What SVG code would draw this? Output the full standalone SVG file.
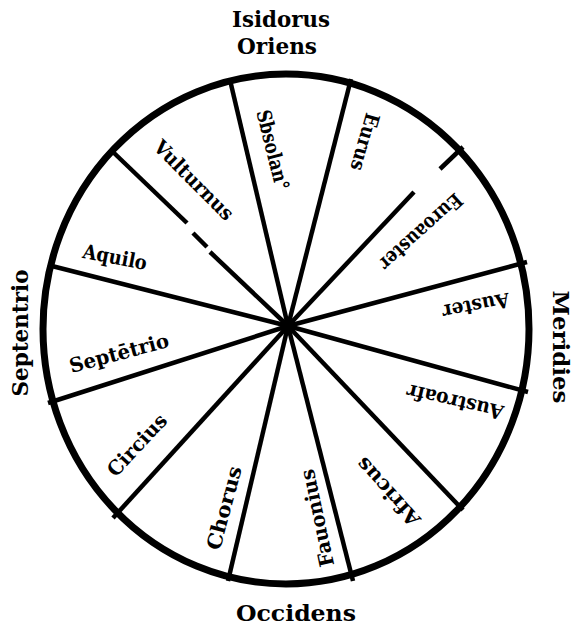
<svg xmlns="http://www.w3.org/2000/svg" width="583" height="634" viewBox="0 0 583 634">
<style>
.lbl{font-family:"DejaVu Serif","Liberation Serif",serif;font-weight:bold;font-size:20px;fill:#000;text-anchor:middle;dominant-baseline:central}
.big{font-size:23px}
.sp{stroke:#000;stroke-width:4.5;fill:none;stroke-linecap:butt}
</style>
<rect width="583" height="634" fill="#fff"/>
<g id="wheel">
<ellipse cx="286" cy="329" rx="243" ry="255" fill="none" stroke="#000" stroke-width="7"/>
</g>
<g id="spokes" class="sp">
<line x1="288" y1="326" x2="230" y2="80"/>
<line x1="288" y1="326" x2="351" y2="79"/>
<line x1="288" y1="326" x2="414" y2="192"/>
<line x1="440" y1="169" x2="463" y2="147"/>
<line x1="288" y1="326" x2="527" y2="262"/>
<line x1="288" y1="326" x2="528" y2="392"/>
<line x1="288" y1="326" x2="463" y2="510"/>
<line x1="288" y1="326" x2="353" y2="581"/>
<line x1="288" y1="326" x2="228" y2="581"/>
<line x1="288" y1="326" x2="113" y2="518"/>
<line x1="288" y1="326" x2="48" y2="403"/>
<line x1="288" y1="326" x2="48" y2="265"/>
<line x1="288" y1="326" x2="210" y2="252"/>
<line x1="207" y1="247" x2="193" y2="233"/>
<line x1="187" y1="223" x2="113" y2="152"/>
</g>
<g id="Isidorus"><text class="lbl big" x="281" y="18" textLength="98" lengthAdjust="spacingAndGlyphs">Isidorus</text></g>
<g id="Oriens"><text class="lbl big" x="277" y="45" textLength="80" lengthAdjust="spacingAndGlyphs">Oriens</text></g>
<g id="Occidens"><text class="lbl big" x="296" y="612" textLength="120" lengthAdjust="spacingAndGlyphs">Occidens</text></g>
<g id="Septentrio"><text class="lbl big" transform="translate(19 333) rotate(-90)" textLength="127" lengthAdjust="spacingAndGlyphs">Septentrio</text></g>
<g id="Meridies"><text class="lbl big" transform="translate(561 347) rotate(90)" textLength="113" lengthAdjust="spacingAndGlyphs">Meridies</text></g>
<g id="Subsolanus"><text class="lbl" transform="translate(273 150) rotate(76)" textLength="82" lengthAdjust="spacingAndGlyphs">Sbsolan°</text></g>
<g id="Eurus"><text class="lbl" transform="translate(365 142) rotate(106)" textLength="59" lengthAdjust="spacingAndGlyphs">Eurus</text></g>
<g id="Euroauster"><text class="lbl" transform="translate(421 232) rotate(138)" textLength="104" lengthAdjust="spacingAndGlyphs">Euroauster</text></g>
<g id="Auster"><text class="lbl" transform="translate(476 306) rotate(169)" textLength="68" lengthAdjust="spacingAndGlyphs">Auster</text></g>
<g id="Austroafricus"><text class="lbl" transform="translate(455 402) rotate(193)" textLength="99" lengthAdjust="spacingAndGlyphs">Austroafr</text></g>
<g id="Africus"><text class="lbl" transform="translate(388 492) rotate(228)" textLength="85" lengthAdjust="spacingAndGlyphs">Africus</text></g>
<g id="Fauonius"><text class="lbl" transform="translate(317 518) rotate(258)" textLength="99" lengthAdjust="spacingAndGlyphs">Fauonius</text></g>
<g id="Chorus"><text class="lbl" transform="translate(224 508) rotate(-75)" textLength="86" lengthAdjust="spacingAndGlyphs">Chorus</text></g>
<g id="Circius"><text class="lbl" transform="translate(137 445) rotate(-47)" textLength="77" lengthAdjust="spacingAndGlyphs">Circius</text></g>
<g id="Septetrio"><text class="lbl" transform="translate(119 353) rotate(-15)" textLength="102" lengthAdjust="spacingAndGlyphs">Septētrio</text></g>
<g id="Aquilo"><text class="lbl" transform="translate(115 257) rotate(11)" textLength="65" lengthAdjust="spacingAndGlyphs">Aquilo</text></g>
<g id="Vulturnus"><text class="lbl" transform="translate(194 180) rotate(45)" textLength="104" lengthAdjust="spacingAndGlyphs">Vulturnus</text></g>
</svg>
